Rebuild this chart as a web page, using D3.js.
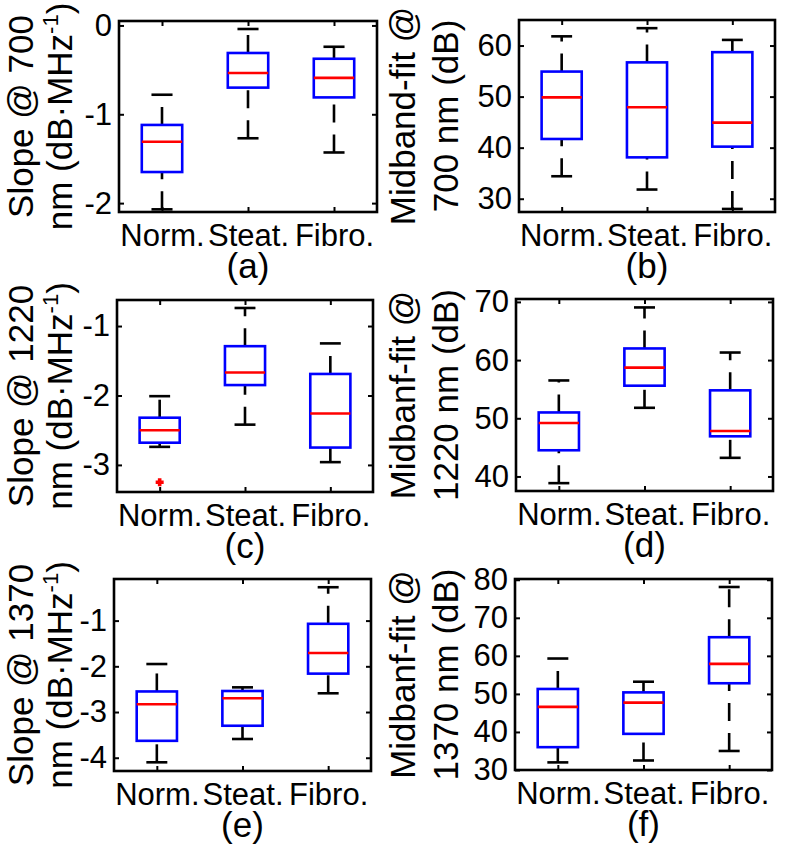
<!DOCTYPE html>
<html><head><meta charset="utf-8">
<script src="https://cdn.jsdelivr.net/npm/d3@7"></script>
<style>
body{margin:0;background:#fff}
svg{display:block}
text{font-family:"Liberation Sans",Arial,Helvetica,sans-serif;fill:#000}
</style></head>
<body><svg id="chart" width="787" height="846"></svg>
<script>
// ---- data ----
const groups = ["Norm.", "Steat.", "Fibro."];
// each row: [lower whisker, Q1, median, Q3, upper whisker]
const slope700   = [[-2.07, -1.65, -1.31, -1.12, -0.78], [-1.27, -0.70, -0.535, -0.31, -0.04], [-1.43, -0.81, -0.59, -0.375, -0.24]];
const midband700 = [[34.4, 41.7, 49.85, 54.9, 61.8], [31.8, 38.1, 47.9, 56.7, 63.4], [28.0, 40.2, 44.9, 58.7, 61.1]];
const slope1220  = [[-2.74, -2.68, -2.50, -2.32, -2.01], [-2.42, -1.85, -1.67, -1.29, -0.74], [-2.96, -2.75, -2.26, -1.69, -1.25]];
const midband1220 = [[38.85, 44.5, 49.2, 51.0, 56.5], [51.8, 55.6, 58.7, 62.0, 69.05], [43.2, 46.9, 47.8, 54.8, 61.3]];
const slope1370  = [[-4.10, -3.63, -2.83, -2.55, -1.95], [-3.59, -3.30, -2.70, -2.54, -2.46], [-2.59, -2.16, -1.71, -1.07, -0.27]];
const midband1370 = [[32.0, 36.0, 46.6, 51.3, 59.3], [32.5, 39.5, 47.7, 50.4, 53.2], [35.0, 52.8, 57.9, 64.9, 78.1]];
const noOutliers = [[], [], []];
const slope1220Outliers = [[-3.25], [], []];

const ticksA = [-2, -1, 0];
const ticksB = [30, 40, 50, 60];
const ticksC = [-3, -2, -1];
const ticksD = [40, 50, 60, 70];
const ticksE = [-4, -3, -2, -1];
const ticksF = [30, 40, 50, 60, 70, 80];

const limA = [-2.1, 0.05];
const limB = [27.4, 65];
const limC = [-3.39, -0.625];
const limD = [37.5, 70.5];
const limE = [-4.29, -0.09];
const limF = [30, 80.2];

const slopeUnit = "dB\u00b7MHz";
const labelsA = ["Slope @ 700", "nm ("];
const labelsB = ["Midband-fit @", "700 nm (dB)"];
const labelsC = ["Slope @ 1220", "nm ("];
const labelsD = ["Midbanf-fit @", "1220 nm (dB)"];
const labelsE = ["Slope @ 1370", "nm ("];
const labelsF = ["Midbanf-fit @", "1370 nm (dB)"];
const captions = ["(a)", "(b)", "(c)", "(d)", "(e)", "(f)"];

// ---- layout ----
const panels = [
  {stats: slope700,   out: noOutliers,        ticks: ticksA, lim: limA, lab: labelsA, unit: true,  rect: [119, 21, 377, 212], labX: [-86, -47]},
  {stats: midband700, out: noOutliers,        ticks: ticksB, lim: limB, lab: labelsB, unit: false, rect: [519, 20, 775, 212], labX: [-104, -61]},
  {stats: slope1220,  out: slope1220Outliers, ticks: ticksC, lim: limC, lab: labelsC, unit: true,  rect: [117, 300, 373, 492], labX: [-84, -45]},
  {stats: midband1220, out: noOutliers,       ticks: ticksD, lim: limD, lab: labelsD, unit: false, rect: [516, 299, 773, 491], labX: [-101, -58]},
  {stats: slope1370,  out: noOutliers,        ticks: ticksE, lim: limE, lab: labelsE, unit: true,  rect: [114, 579, 371, 771], labX: [-81, -42]},
  {stats: midband1370, out: noOutliers,       ticks: ticksF, lim: limF, lab: labelsF, unit: false, rect: [515, 579, 772, 770], labX: [-100, -57]}
];

const svg = d3.select("#chart");
const tickFont = 31, labFont = 35, lw = 2.6, tickLen = 5;

panels.forEach((p, i) => {
  const [l, t, r, b] = p.rect;
  const w = r - l, h = b - t;
  const g = svg.append("g").attr("transform", `translate(${l},${t})`);
  const x = d3.scaleLinear().domain([0.5, groups.length + 0.5]).range([0, w]);
  const y = d3.scaleLinear().domain(p.lim).range([h, 0]);
  const step = x(2) - x(1);
  const bw = 0.47 * step, cw = 0.245 * step;
  const fmt = d => String(d);

  // axes
  const yl = d3.axisLeft(y).tickValues(p.ticks).tickSize(-tickLen).tickPadding(7).tickFormat(fmt);
  const yr = d3.axisRight(y).tickValues(p.ticks).tickSize(-tickLen).tickFormat("");
  const xb = d3.axisBottom(x).tickValues(d3.range(1, groups.length + 1)).tickSize(-tickLen).tickPadding(12).tickFormat(d => groups[d - 1]);
  const xt = d3.axisTop(x).tickValues(d3.range(1, groups.length + 1)).tickSize(-tickLen).tickFormat("");
  [ [yl, null], [yr, `translate(${w},0)`], [xb, `translate(0,${h})`], [xt, null] ].forEach(([a, tr]) => {
    const gg = g.append("g").call(a);
    if (tr) gg.attr("transform", tr);
    gg.attr("font-size", tickFont).attr("font-family", '"Liberation Sans",Arial,sans-serif');
    gg.select(".domain").remove();
    gg.selectAll(".tick line").attr("stroke", "#000").attr("stroke-width", 2);
    gg.selectAll("text").attr("fill", "#000");
  });

  // boxes
  p.stats.forEach((s, k) => {
    const cx = x(k + 1);
    const [lo, q1, med, q3, hi] = s;
    g.append("line").attr("x1", cx).attr("x2", cx).attr("y1", y(q3)).attr("y2", y(hi))
      .attr("stroke", "#000").attr("stroke-width", lw).attr("stroke-dasharray", "18,12");
    g.append("line").attr("x1", cx).attr("x2", cx).attr("y1", y(lo)).attr("y2", y(q1))
      .attr("stroke", "#000").attr("stroke-width", lw).attr("stroke-dasharray", "18,12");
    [lo, hi].forEach(v => g.append("line").attr("x1", cx - cw / 2).attr("x2", cx + cw / 2)
      .attr("y1", y(v)).attr("y2", y(v)).attr("stroke", "#000").attr("stroke-width", lw));
    g.append("rect").attr("x", cx - bw / 2).attr("y", y(q3)).attr("width", bw).attr("height", y(q1) - y(q3))
      .attr("fill", "none").attr("stroke", "#0000ff").attr("stroke-width", lw);
    g.append("line").attr("x1", cx - bw / 2).attr("x2", cx + bw / 2).attr("y1", y(med)).attr("y2", y(med))
      .attr("stroke", "#ff0000").attr("stroke-width", lw);
    p.out[k].forEach(v => {
      const oy = y(v), a = 4;
      g.append("path").attr("d", `M${cx - a},${oy}H${cx + a}M${cx},${oy - a}V${oy + a}`)
        .attr("stroke", "#ff0000").attr("stroke-width", 3.6).attr("fill", "none");
    });
  });

  // frame
  g.append("rect").attr("width", w).attr("height", h).attr("fill", "none")
    .attr("stroke", "#000").attr("stroke-width", lw);

  // y label (two lines)
  const cy = h / 2;
  g.append("text").attr("transform", `translate(${p.labX[0]},${cy}) rotate(-90)`)
    .attr("text-anchor", "middle").attr("font-size", labFont).text(p.lab[0]);
  const t2 = g.append("text").attr("transform", `translate(${p.labX[1]},${cy}) rotate(-90)`)
    .attr("text-anchor", "middle").attr("font-size", labFont);
  if (p.unit) {
    t2.append("tspan").text(p.lab[1] + slopeUnit);
    t2.append("tspan").attr("font-size", 22).attr("dy", -14).text("-1");
    t2.append("tspan").attr("dy", 14).text(")");
  } else {
    t2.text(p.lab[1]);
  }

  // caption
  g.append("text").attr("x", w / 2).attr("y", h + 66).attr("text-anchor", "middle")
    .attr("font-size", labFont).text(captions[i]);
});
</script></body></html>
